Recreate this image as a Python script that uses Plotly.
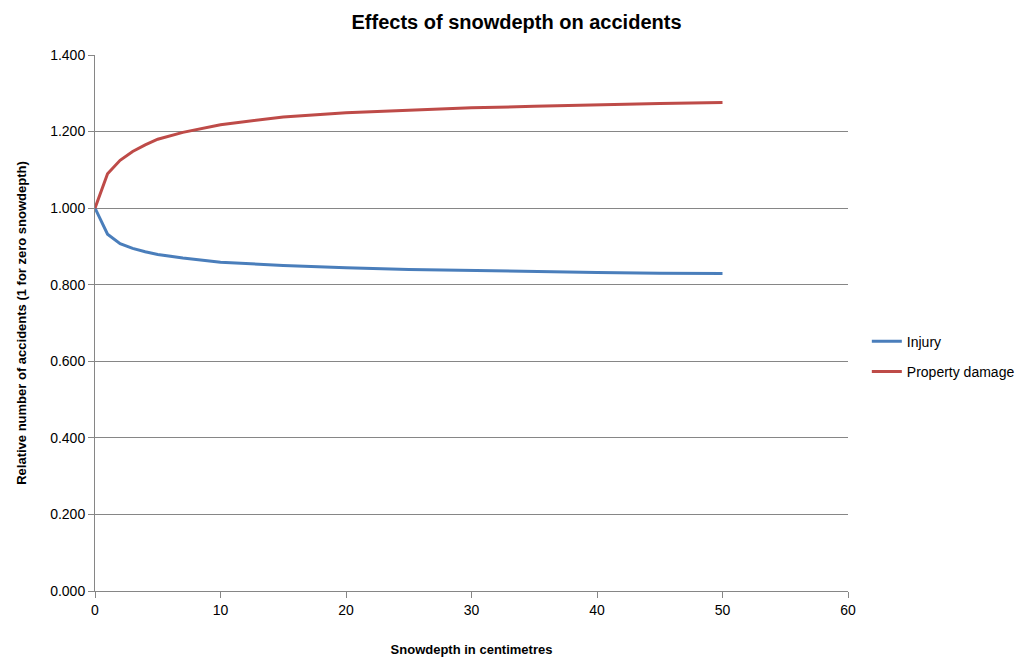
import plotly.graph_objects as go

depth = [0, 1, 2, 3, 4, 5, 7, 10, 15, 20, 25, 30, 35, 40, 45, 50]
injury = [1.000, 0.932, 0.907, 0.895, 0.886, 0.879, 0.870, 0.859, 0.850, 0.844, 0.840, 0.837, 0.834, 0.832, 0.830, 0.829]
property_damage = [1.000, 1.090, 1.125, 1.148, 1.165, 1.180, 1.198, 1.218, 1.238, 1.249, 1.256, 1.262, 1.266, 1.270, 1.273, 1.276]

x_ticks = [0, 10, 20, 30, 40, 50, 60]
y_ticks = [0, 0.2, 0.4, 0.6, 0.8, 1.0, 1.2, 1.4]

font = "Liberation Sans Narrow, Liberation Sans, Arial, sans-serif"

fig = go.Figure()
fig.add_trace(go.Scatter(x=depth, y=injury, mode="lines", name="Injury", legendgroup="a",
                         line=dict(color="#4A7EBB", width=3)))
fig.add_trace(go.Scatter(x=depth, y=property_damage, mode="lines", name="Property damage", legendgroup="b",
                         line=dict(color="#BE4B48", width=3)))

fig.update_layout(
    width=1033, height=660,
    margin=dict(l=95, r=185, t=55, b=69),
    paper_bgcolor="white", plot_bgcolor="white",
    font=dict(family=font, size=14, color="black"),
    title=dict(text="<b>Effects of snowdepth on accidents</b>", x=0.5, xanchor="center",
               y=0.967, yanchor="middle", font=dict(size=20, family=font)),
    xaxis=dict(range=[0, 60], tickvals=x_ticks, showgrid=False, zeroline=False,
               showline=True, linecolor="#868686", linewidth=1, automargin=False,
               ticks="outside", ticklen=6, tickcolor="#868686",
               title=dict(text="<b>Snowdepth in centimetres</b>", font=dict(size=13), standoff=28)),
    yaxis=dict(range=[0, 1.4], tickvals=y_ticks, tickformat=".3f",
               showgrid=True, gridcolor="#868686", gridwidth=1, zeroline=False,
               showline=True, linecolor="#868686", linewidth=1, automargin=False,
               ticks="outside", ticklen=6, tickcolor="#868686",
               title=dict(text="<b>Relative number of accidents (1 for zero snowdepth)</b>", font=dict(size=13), standoff=20)),
    legend=dict(x=1.025, y=0.437, xanchor="left", yanchor="middle",
                font=dict(size=14), tracegroupgap=9, itemwidth=30),
    showlegend=True,
)

fig.write_html("out.html")
